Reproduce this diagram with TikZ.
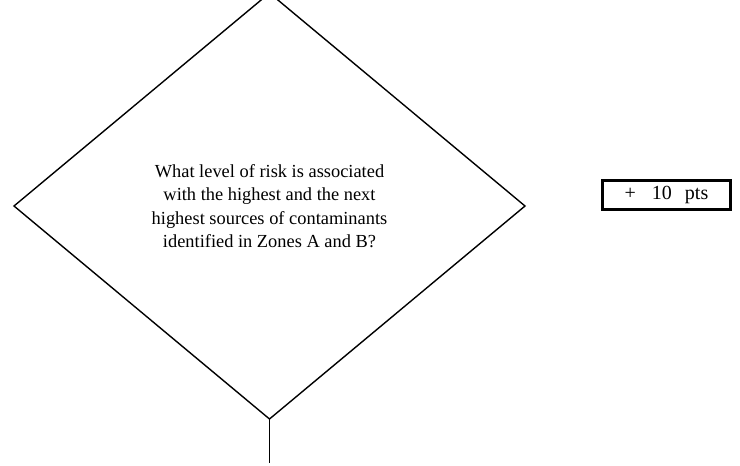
\documentclass[tikz,border=0pt]{standalone}
\usepackage{fontspec}
\setmainfont{Liberation Serif}
\usetikzlibrary{shapes.geometric}
\begin{document}
\begin{tikzpicture}[x=1pt,y=-1pt,
  decision/.style={diamond,draw,line width=1.4pt,inner sep=0pt,outer sep=0pt,
    minimum width=511pt,minimum height=426pt,align=center,
    font=\fontsize{18.4}{23.5}\selectfont},
  scorebox/.style={draw,line width=3pt,inner sep=0pt,outer sep=0pt,
    minimum width=128pt,minimum height=29pt,font=\fontsize{20}{24}\selectfont},
  link/.style={draw,line width=1.8pt}]
\useasboundingbox (0,0) rectangle (740,466);
\node[decision] (q) at (269.5,206) {What level of risk is associated\\with the highest and the next\\highest sources of contaminants\\identified in Zones A and B?};
\node[scorebox] (pts) at (666.5,195) {+\hspace{16pt}10\hspace{13pt}pts};
\coordinate (qend) at (269.5,463);
\draw[link] (q.south) -- (qend);
\end{tikzpicture}
\end{document}
